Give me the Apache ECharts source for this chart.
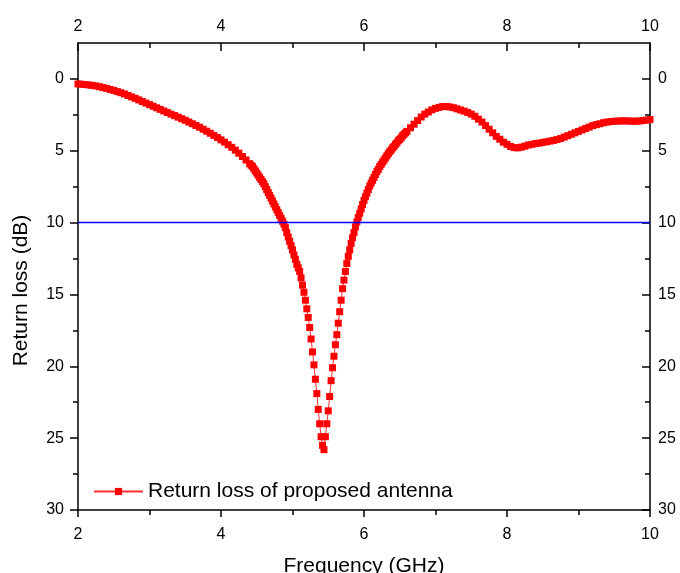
<!DOCTYPE html>
<html>
<head>
<meta charset="utf-8">
<script src="https://cdn.jsdelivr.net/npm/echarts@6/dist/echarts.min.js"></script>
<style>
html,body{margin:0;padding:0;background:#fff;}
#chart{width:680px;height:573px;}
</style>
</head>
<body>
<div id="chart"></div>
<script>
// ---- data ----
const xTicks = [2, 4, 6, 8, 10];
const xMinorTicks = [3, 5, 7, 9];
const yTicks = [0, 5, 10, 15, 20, 25, 30];
const yMinorTicks = [2.5, 7.5, 12.5, 17.5, 22.5, 27.5];
const refLevel = 10; // -10 dB reference line (blue)

// segment A: 2.00 .. 4.40 GHz, step 0.05
const startA = 2.00, stepA = 0.05;
const lossA = [0.35,0.37,0.39,0.42,0.45,0.49,0.54,0.6,0.66,0.73,
  0.8,0.88,0.96,1.05,1.15,1.25,1.35,1.46,1.57,1.68,
  1.79,1.9,2.01,2.12,2.23,2.34,2.45,2.55,2.66,2.77,
  2.88,3.0,3.12,3.24,3.36,3.5,3.64,3.78,3.93,4.08,
  4.24,4.4,4.58,4.76,4.96,5.17,5.4,5.64,5.9];
// segment B: 4.42 .. 6.60 GHz, step 0.02
const startB = 4.42, stepB = 0.02;
const lossB = [6.0,6.1,6.25,6.4,6.55,6.7,6.85,7.0,7.15,7.3,
  7.5,7.7,7.9,8.1,8.3,8.5,8.7,8.9,9.1,9.3,
  9.5,9.7,9.9,10.1,10.35,10.7,11.0,11.3,11.6,11.9,
  12.25,12.55,12.9,13.15,13.4,13.85,14.35,14.85,15.4,16.0,
  16.6,17.3,18.1,19.0,19.9,20.9,21.9,23.0,24.0,24.9,
  25.5,25.8,24.9,24.0,23.1,22.1,21.0,20.1,19.3,18.5,
  17.8,17.0,16.2,15.4,14.6,14.0,13.4,12.85,12.35,11.9,
  11.45,11.05,10.7,10.3,9.95,9.65,9.35,9.05,8.75,8.45,
  8.2,7.95,7.7,7.45,7.25,7.05,6.85,6.65,6.45,6.3,
  6.1,5.95,5.8,5.65,5.5,5.35,5.2,5.05,4.95,4.8,
  4.7,4.55,4.45,4.3,4.2,4.1,3.95,3.85,3.75,3.65];
// segment C: 6.65 .. 10.00 GHz, step 0.05
const startC = 6.65, stepC = 0.05;
const lossC = [3.4,3.15,2.9,2.65,2.45,2.3,2.15,2.05,1.98,1.93,
  1.92,1.95,2.0,2.08,2.16,2.24,2.33,2.45,2.6,2.8,
  3.0,3.25,3.5,3.75,4.0,4.2,4.4,4.55,4.7,4.78,
  4.8,4.75,4.68,4.6,4.55,4.5,4.47,4.42,4.38,4.33,
  4.28,4.22,4.15,4.05,3.95,3.85,3.75,3.65,3.55,3.45,
  3.35,3.25,3.18,3.12,3.05,3.0,2.97,2.95,2.93,2.92,
  2.92,2.93,2.94,2.94,2.93,2.9,2.87,2.83];

const seriesName = 'Return loss of proposed antenna';
const xName = 'Frequency (GHz)';
const yName = 'Return loss (dB)';

// ---- build ----
function seg(start, step, vals) {
  return vals.map((v, i) => [+(start + i * step).toFixed(2), v]);
}
const points = [].concat(seg(startA, stepA, lossA), seg(startB, stepB, lossB), seg(startC, stepC, lossC));
const xMin = xTicks[0], xMax = xTicks[xTicks.length - 1];
const yMin = -2.5, yMax = 30;

const FONT = 'Liberation Sans';
const black = '#000';
const gridBox = { left: 78, right: 30, top: 43, bottom: 63, containLabel: false, outerBoundsMode: 'none' };
const axisLineOn = { show: true, onZero: false, lineStyle: { color: black, width: 1.5 } };
const axisLineOff = { show: false, onZero: false };

function xAxisBase(extra) {
  return Object.assign({
    type: 'value', min: xMin, max: xMax,
    splitLine: { show: false },
    axisLine: axisLineOn,
  }, extra);
}
function yAxisBase(extra) {
  return Object.assign({
    type: 'value', min: yMin, max: yMax, inverse: true,
    splitLine: { show: false },
    axisLine: axisLineOn,
  }, extra);
}
const labelStyle = { color: black, fontFamily: FONT, fontSize: 16 };

const option = {
  animation: false,
  backgroundColor: '#fff',
  grid: [Object.assign({}, gridBox), Object.assign({}, gridBox)],
  legend: {
    data: [seriesName],
    left: 88, top: 476,
    itemWidth: 49, itemHeight: 9, itemGap: 6,
    textStyle: { color: black, fontFamily: FONT, fontSize: 21 },
  },
  xAxis: [
    xAxisBase({ gridIndex: 0, position: 'bottom',
      name: xName, nameLocation: 'middle', nameGap: 46,
      nameTextStyle: { color: black, fontFamily: FONT, fontSize: 21 },
      axisTick: { show: true, inside: false, length: 7, lineStyle: { color: black, width: 1.5 }, customValues: xTicks },
      axisLabel: Object.assign({ margin: 17, customValues: xTicks }, labelStyle) }),
    xAxisBase({ gridIndex: 0, position: 'top',
      axisTick: { show: true, inside: true, length: 8, lineStyle: { color: black, width: 1.5 }, customValues: xTicks },
      axisLabel: Object.assign({ margin: 8, customValues: xTicks }, labelStyle) }),
    xAxisBase({ gridIndex: 1, position: 'bottom', axisLine: axisLineOff,
      axisTick: { show: true, inside: false, length: 5, lineStyle: { color: black, width: 1.5 }, customValues: xMinorTicks },
      axisLabel: { show: false } }),
    xAxisBase({ gridIndex: 1, position: 'top', axisLine: axisLineOff,
      axisTick: { show: true, inside: true, length: 5, lineStyle: { color: black, width: 1.5 }, customValues: xMinorTicks },
      axisLabel: { show: false } }),
  ],
  yAxis: [
    yAxisBase({ gridIndex: 0, position: 'left',
      name: yName, nameLocation: 'middle', nameGap: 46,
      nameTextStyle: { color: black, fontFamily: FONT, fontSize: 21, padding: [0, 28, 0, 0] },
      axisTick: { show: true, inside: false, length: 8, lineStyle: { color: black, width: 1.5 }, customValues: yTicks },
      axisLabel: Object.assign({ margin: 14, customValues: yTicks }, labelStyle) }),
    yAxisBase({ gridIndex: 0, position: 'right',
      axisTick: { show: true, inside: true, length: 8, lineStyle: { color: black, width: 1.5 }, customValues: yTicks },
      axisLabel: Object.assign({ margin: 8, customValues: yTicks }, labelStyle) }),
    yAxisBase({ gridIndex: 1, position: 'left', axisLine: axisLineOff,
      axisTick: { show: true, inside: false, length: 5, lineStyle: { color: black, width: 1.5 }, customValues: yMinorTicks },
      axisLabel: { show: false } }),
    yAxisBase({ gridIndex: 1, position: 'right', axisLine: axisLineOff,
      axisTick: { show: true, inside: true, length: 5, lineStyle: { color: black, width: 1.5 }, customValues: yMinorTicks },
      axisLabel: { show: false } }),
  ],
  series: [
    {
      name: seriesName, type: 'line', xAxisIndex: 0, yAxisIndex: 0,
      data: points,
      symbol: 'rect', symbolSize: 7, showAllSymbol: true,
      itemStyle: { color: '#ff0000' },
      lineStyle: { color: '#ff3030', width: 1 },
      z: 3,
    },
    {
      name: 'ref', type: 'line', xAxisIndex: 0, yAxisIndex: 0,
      data: [[xMin, refLevel], [xMax, refLevel]],
      symbol: 'none',
      lineStyle: { color: '#0000ff', width: 1.5 },
      z: 4, silent: true,
    },
  ],
};
const chart = echarts.init(document.getElementById('chart'), null, { renderer: 'canvas' });
chart.setOption(option);
</script>
</body>
</html>
